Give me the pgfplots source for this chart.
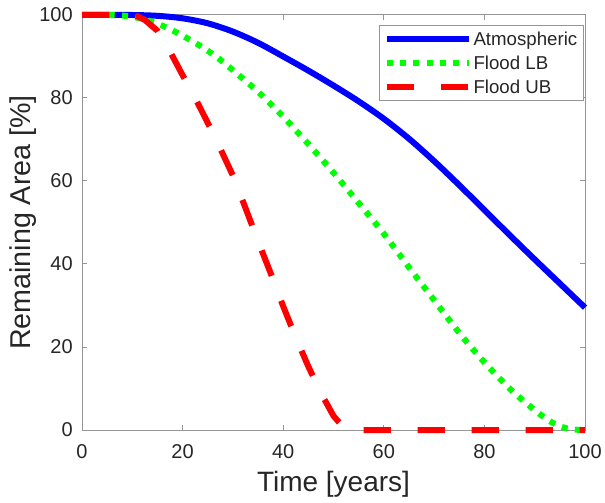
\documentclass[border=0pt]{standalone}
\usepackage{fontspec}
\setmainfont{Liberation Sans}
\usepackage{pgfplots}
\pgfplotsset{compat=1.18}
\definecolor{txt}{HTML}{262626}
\definecolor{axgray}{HTML}{959595}
\definecolor{mblue}{RGB}{0,0,255}
\definecolor{mgreen}{RGB}{0,255,0}
\definecolor{mred}{RGB}{255,0,0}
\begin{document}
\begin{tikzpicture}
\begin{axis}[
  at={(0,0)}, anchor=south west,
  scale only axis, width=377.25pt, height=311.25pt,
  xmin=0, xmax=100, ymin=0, ymax=100,
  xtick={0,20,...,100}, ytick={0,20,...,100},
  tick align=inside, tick pos=both, major tick length=4pt,
  axis line style={color=axgray, line width=0.75pt},
  every tick/.style={color=axgray, line width=0.75pt},
  every tick label/.append style={font=\fontsize{15}{18}\selectfont, text=txt},
  /pgf/number format/assume math mode=true,
  xticklabel style={anchor=base, yshift=-21.2pt},
  yticklabel style={anchor=east, inner sep=0pt, xshift=-6.75pt},
  xlabel={Time [years]},
  ylabel={Remaining Area [\%]},
  xlabel style={font=\fontsize{21}{25}\selectfont, text=txt, at={(axis description cs:0.5,-0.1487)}, anchor=base},
  ylabel style={font=\fontsize{21.5}{25}\selectfont, text=txt, at={(axis description cs:-0.117,0.5)}, anchor=center, rotate=0},
  clip=false,
  legend image code/.code={\draw[#1] (0pt,0pt) -- (61.5pt,0pt);},
  legend style={at={(0.5905,0.976)}, anchor=north west, draw=axgray, line width=0.75pt, fill=white,
    inner xsep=3pt, inner ysep=1pt, font=\fontsize{14}{16}\selectfont, text=txt,
    nodes={inner xsep=1.5pt, inner ysep=0pt, text height=14pt, text depth=4pt},
    cells={anchor=west}, row sep=0pt},
]
\addplot[mblue, line width=4.5pt, smooth] coordinates {
(0,100) (5,100) (10,100) (15,99.8) (20,99.2) (25,98) (30,96) (35,93.3) (40,90) (45,86.6)
(50,83) (55,79.2) (60,75) (65,70.2) (70,64.8) (75,59) (80,53) (85,47) (90,41.1) (95,35.3) (100,29.5)
};
\addlegendentry{Atmospheric}
\addplot[mgreen, line width=4.5pt, line cap=butt, dash pattern=on 4.5pt off 5.5pt, smooth] coordinates {
(0,100) (5,100) (7.5,99.9) (10,99.6) (12.5,98.9) (15,97.9) (17.5,96.6) (20,95) (22.5,93.3) (25,91.4)
(27.5,89.2) (30,86.7) (35,81.5) (40,75.5) (45,68.9) (50,62) (55,54.7) (60,47.3) (65,39.2) (70,31.3)
(75,23.4) (80,16.3) (85,10) (87.5,7.3) (90,4.8) (92.5,2.5) (95,0.9) (97.5,0.15) (100,0)
};
\addlegendentry{Flood LB}
\addplot[mred, line width=4.5pt, line cap=butt, dash pattern=on 20.5pt off 20pt] coordinates {
(0,100) (5,100) (10,100) (11,99.7) (12.5,98.8) (15,96.2) (17.5,91.2) (20,85.5) (22.5,80) (25,74)
(27.5,67.8) (30,61.3) (32.5,53.5) (35,45.5) (37.5,37.8) (40,29.8) (42.5,22.3) (45,15.3) (47.5,8.9)
(50,3.4) (51,2) (52,0.8) (53,0.2) (54,0) (100,0)
};
\addlegendentry{Flood UB}
\end{axis}
\pgfresetboundingbox
\path[use as bounding box] (-61.5pt,-54pt) rectangle (392.25pt,322.5pt);
\end{tikzpicture}
\end{document}
